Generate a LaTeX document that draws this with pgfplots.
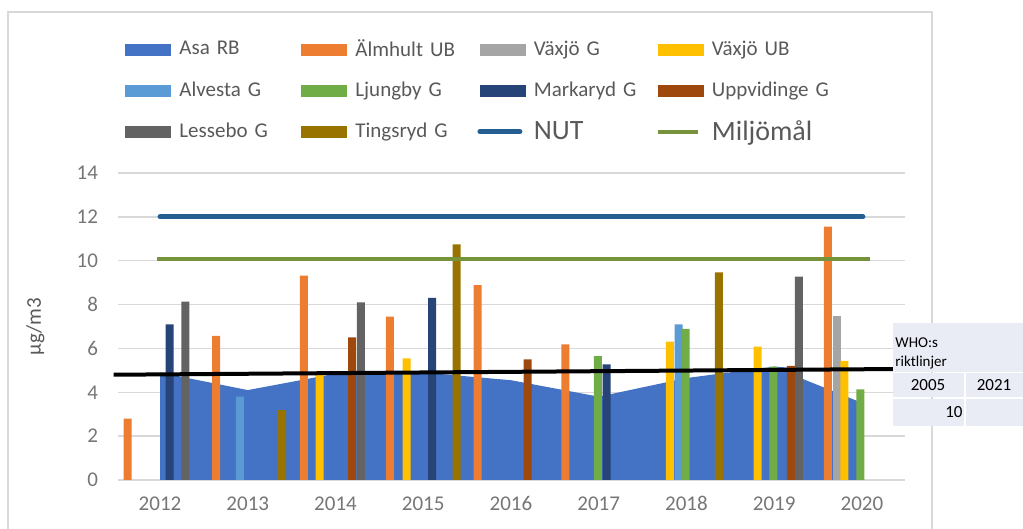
\documentclass[border=0pt]{standalone}
\usepackage{pgfplots}
\pgfplotsset{compat=1.18}
\usepackage{fontspec}
\setmainfont{Carlito}[Numbers=Lining]
\definecolor{asa}{HTML}{4472C4}
\definecolor{almhult}{HTML}{ED7D31}
\definecolor{vaxjog}{HTML}{A5A5A5}
\definecolor{vaxjoub}{HTML}{FFC000}
\definecolor{alvesta}{HTML}{5B9BD5}
\definecolor{ljungby}{HTML}{70AD47}
\definecolor{markaryd}{HTML}{264478}
\definecolor{uppvid}{HTML}{9E480E}
\definecolor{lessebo}{HTML}{636363}
\definecolor{tingsryd}{HTML}{997300}
\definecolor{nut}{HTML}{255E91}
\definecolor{miljo}{HTML}{76933C}
\definecolor{gridgray}{HTML}{D9D9D9}
\definecolor{tickgray}{HTML}{767676}
\definecolor{legtext}{HTML}{595959}
\definecolor{tablefill}{HTML}{E9EBF5}

\pgfplotsset{
  myswatch/.style={legend image code/.code={\fill[##1] (0pt,-3pt) rectangle (23pt,3pt);}},
  myline/.style={legend image code/.code={\draw[##1] (0pt,0pt) -- (20pt,0pt);}},
  mybar/.style={ybar, bar width=4pt, bar shift=0pt, draw=none, fill=#1, myswatch},
}

\begin{document}
\begin{tikzpicture}
\begin{scope}[x=0.5pt,y=0.5pt]
\useasboundingbox (0,0) rectangle (1023,529);
\draw[gridgray, line width=0.75pt] (8,0) -- (8,517) -- (932,517) -- (932,0);
\end{scope}

\begin{axis}[
  at={(59pt,24.5pt)}, anchor=south west,
  scale only axis, width=393.5pt, height=153.5pt,
  xmin=2011.521, xmax=2020.49, ymin=0, ymax=14,
  xtick={2012,...,2020}, ytick={0,2,...,14},
  axis line style={draw=none}, major tick length=0pt,
  ymajorgrids, major grid style={draw=gridgray, line width=0.75pt},
  tick label style={font=\fontsize{10.5}{12}\selectfont, text=tickgray},
  /pgf/number format/assume math mode=true, /pgf/number format/1000 sep={},
  yticklabel style={xshift=-6.5pt},
  xticklabel style={text height=7pt, yshift=-4.5pt},
  ylabel={µg/m3},
  ylabel style={at={(axis description cs:-0.105,0.5)}, anchor=center,
    font=\fontsize{10.5}{12}\selectfont, text=legtext},
  clip=false,
  legend columns=4,
  legend style={at={(axis description cs:0.0089,1.47)}, anchor=north west,
    draw=none, fill=none, inner sep=0pt,
    /tikz/every odd column/.style={column sep=4pt},
    /tikz/every even column/.style={column sep=0pt},
    nodes={font=\fontsize{10.5}{12}\selectfont, text=legtext, inner sep=0pt,
      text width=61pt, minimum height=20.5pt, anchor=west}},
]
% Asa RB (area)
\addplot[fill=asa, draw=none, myswatch] coordinates {
  (2012,4.9) (2013,4.1) (2014,4.85) (2015,4.9) (2016,4.55) (2017,3.8)
  (2018,4.65) (2019,5.17) (2019.26,5.1) (2019.28,4.68) (2019.98,3.55)
} \closedcycle;
% Älmhult UB
\addplot[mybar=almhult] coordinates {
  (2011.63,2.8) (2012.64,6.57) (2013.64,9.32) (2014.62,7.45)
  (2015.62,8.89) (2016.62,6.19) (2019.61,11.55)};
% Växjö G
\addplot[mybar=vaxjog] coordinates {(2019.71,7.48)};
% Växjö UB
\addplot[mybar=vaxjoub] coordinates {
  (2013.82,4.85) (2014.81,5.55) (2017.81,6.31) (2018.81,6.08) (2019.80,5.43)};
% Alvesta G
\addplot[mybar=alvesta] coordinates {(2012.91,3.8) (2017.91,7.1)};
% Ljungby G
\addplot[mybar=ljungby] coordinates {
  (2016.99,5.65) (2017.99,6.89) (2018.99,5.17) (2019.98,4.13)};
% Markaryd G
\addplot[mybar=markaryd] coordinates {(2012.11,7.1) (2015.10,8.31) (2017.09,5.27)};
% Uppvidinge G
\addplot[mybar=uppvid] coordinates {(2014.19,6.5) (2016.19,5.5) (2019.19,5.2)};
% Lessebo G
\addplot[mybar=lessebo] coordinates {(2012.29,8.13) (2014.29,8.1) (2019.28,9.27)};
% Tingsryd G
\addplot[mybar=tingsryd] coordinates {(2013.39,3.19) (2015.38,10.75) (2018.37,9.47)};
% NUT
\addplot[nut, line width=2.5pt, line cap=round, myline] coordinates {(2012,12) (2020.01,12)};
% Miljömål
\addplot[miljo, line width=2pt, myline] coordinates {(2011.97,10.1) (2020.09,10.1)};
% WHO line
\addplot[black, line width=2pt, forget plot] coordinates {(2011.47,4.8) (2020.36,5.06)};
\legend{Asa~RB, Älmhult~UB, Växjö~G, Växjö~UB, Alvesta~G, Ljungby~G, Markaryd~G,
  Uppvidinge~G, Lessebo~G, Tingsryd~G,
  {\fontsize{14}{15}\selectfont NUT}, {\fontsize{14}{15}\selectfont Miljömål}}
\end{axis}

\begin{scope}[x=0.5pt,y=0.5pt]
\fill[tablefill] (893,157) rectangle (1023,206);
\fill[tablefill] (893,131.5) rectangle (964,155.5);
\fill[tablefill] (966,131.5) rectangle (1023,155.5);
\fill[tablefill] (893,103) rectangle (964,130);
\fill[tablefill] (966,103) rectangle (1023,130);
\node[anchor=west, inner sep=0pt, font=\fontsize{7.5}{9}\selectfont] at (895,186) {WHO:s};
\node[anchor=west, inner sep=0pt, font=\fontsize{7.5}{9}\selectfont] at (895,166) {riktlinjer};
\node[inner sep=0pt, font=\fontsize{8.5}{10}\selectfont] at (928,144) {2005};
\node[inner sep=0pt, font=\fontsize{8.5}{10}\selectfont] at (994,144) {2021};
\node[anchor=east, inner sep=0pt, font=\fontsize{8.5}{10}\selectfont] at (963,117) {10};
\end{scope}
\end{tikzpicture}
\end{document}
